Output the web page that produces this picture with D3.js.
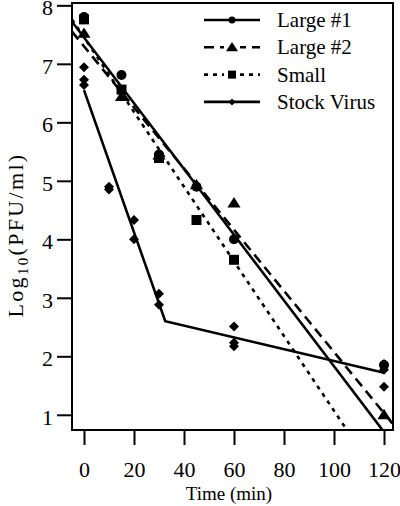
<!DOCTYPE html>
<html><head><meta charset="utf-8">
<script src="https://cdn.jsdelivr.net/npm/d3@7"></script>
<style>body{margin:0;background:#fff;} svg{display:block;} svg text{font-family:"Liberation Serif","Times New Roman",serif;fill:#000;}</style>
</head><body>
<svg id="c" width="400" height="506"></svg>
<script>
// ---- data ----
const seriesNames = ["Large #1", "Large #2", "Small", "Stock Virus"];
const large1T = [0, 15, 30, 45, 60, 120];
const large1V = [7.80, 6.81, 5.45, 4.90, 4.00, 1.85];
const large2T = [0, 15, 30, 45, 60, 120];
const large2V = [7.52, 6.44, 5.44, 4.93, 4.62, 1.00];
const smallT = [0, 15, 30, 45, 60];
const smallV = [7.76, 6.56, 5.39, 4.33, 3.65];
const stockT = [0, 0, 0, 10, 10, 20, 20, 30, 30, 60, 60, 60, 120, 120, 120];
const stockV = [6.94, 6.73, 6.64, 4.90, 4.85, 4.33, 4.00, 3.07, 2.88, 2.51, 2.23, 2.17, 1.87, 1.77, 1.48];
// fitted lines (time, value)
const large1FitT = [-4.8, 120];
const large1FitV = [7.72, 0.706];
const large2FitT = [-4.8, 123.6];
const large2FitV = [7.55, 0.84];
const smallFitT = [-4.8, 110];
const smallFitV = [7.76, 0.43];
const stockFitT = [0, 32.5, 120];
const stockFitV = [6.55, 2.60, 1.72];
const xTicks = [0, 20, 40, 60, 80, 100, 120];
const yTicks = [1, 2, 3, 4, 5, 6, 7, 8];

// ---- layout ----
const svg = d3.select("#c");
const L = 72, R = 393, T = 3, B = 430;
const x = d3.scaleLinear().domain([-4.8, 123.6]).range([L, R]);
const y = d3.scaleLinear().domain([0.74, 8.04]).range([B, T]);

svg.append("defs").append("clipPath").attr("id", "clip")
  .append("rect").attr("x", L).attr("y", T).attr("width", R - L).attr("height", B - T);

// frame
svg.append("rect").attr("x", L).attr("y", T).attr("width", R - L).attr("height", B - T)
  .attr("fill", "none").attr("stroke", "#000").attr("stroke-width", 2);

// axes
const xAxis = svg.append("g").attr("transform", `translate(0,${B})`)
  .call(d3.axisBottom(x).tickValues(xTicks).tickSize(15).tickPadding(16).tickSizeOuter(0));
const yAxis = svg.append("g").attr("transform", `translate(${L},0)`)
  .call(d3.axisLeft(y).tickValues(yTicks).tickSize(15).tickPadding(4).tickSizeOuter(0));
[xAxis, yAxis].forEach(g => {
  g.select(".domain").remove();
  g.selectAll("line").attr("stroke", "#000").attr("stroke-width", 2);
  g.selectAll("text").attr("font-family", null).attr("font-size", 22).attr("fill", "#000");
});
yAxis.selectAll("text").attr("dy", "0.42em");

// axis titles
svg.append("text").attr("x", 229).attr("y", 500).attr("text-anchor", "middle")
  .attr("font-size", 19).text("Time (min)");
const yl = svg.append("text").attr("transform", "translate(23,235) rotate(-90)")
  .attr("text-anchor", "middle").attr("font-size", 22);
yl.append("tspan").text("Log");
yl.append("tspan").attr("font-size", 15).attr("dy", 5).text("10");
yl.append("tspan").attr("dy", -5).text("(PFU/ml)");
const natural = yl.node().getComputedTextLength();
yl.attr("letter-spacing", Math.max(0, (165 - natural) / 13));

// lines
const lineGen = d3.line().x(d => x(d[0])).y(d => y(d[1]));
const plot = svg.append("g").attr("clip-path", "url(#clip)");
const fits = [
  {t: large1FitT, v: large1FitV, dash: null},
  {t: large2FitT, v: large2FitV, dash: "10,6"},
  {t: smallFitT, v: smallFitV, dash: "4,5"},
  {t: stockFitT, v: stockFitV, dash: null}
];
fits.forEach(f => {
  plot.append("path").datum(d3.zip(f.t, f.v)).attr("d", lineGen)
    .attr("fill", "none").attr("stroke", "#000").attr("stroke-width", 2.6)
    .attr("stroke-dasharray", f.dash);
});

// markers
function marker(g, type, cx, cy, s) {
  if (type === "circle") {
    g.append("circle").attr("cx", cx).attr("cy", cy).attr("r", s * 0.5).attr("fill", "#000");
  } else if (type === "triangle") {
    const h = s * 0.9;
    g.append("path").attr("d", `M${cx},${cy - h * 0.6}L${cx + s * 0.6},${cy + h * 0.45}L${cx - s * 0.6},${cy + h * 0.45}Z`).attr("fill", "#000");
  } else if (type === "square") {
    g.append("rect").attr("x", cx - s * 0.5).attr("y", cy - s * 0.5).attr("width", s).attr("height", s).attr("fill", "#000");
  } else {
    g.append("path").attr("d", `M${cx},${cy - s * 0.5}L${cx + s * 0.5},${cy}L${cx},${cy + s * 0.5}L${cx - s * 0.5},${cy}Z`).attr("fill", "#000");
  }
}
const pts = svg.append("g");
const sets = [
  {t: large1T, v: large1V, m: "circle", s: 10},
  {t: large2T, v: large2V, m: "triangle", s: 11},
  {t: smallT, v: smallV, m: "square", s: 10},
  {t: stockT, v: stockV, m: "diamond", s: 10}
];
sets.forEach(st => st.t.forEach((t, i) => marker(pts, st.m, x(t), y(st.v[i]), st.s)));

// legend
const leg = svg.append("g");
const legDash = [null, "10,6", "4,5", null];
const legM = ["circle", "triangle", "square", "diamond"];
const legS = [7, 10, 8, 7];
seriesNames.forEach((n, i) => {
  const yy = 20 + i * 27.3;
  leg.append("line").attr("x1", 204).attr("x2", 260).attr("y1", yy).attr("y2", yy)
    .attr("stroke", "#000").attr("stroke-width", 2.6).attr("stroke-dasharray", legDash[i]);
  if (legDash[i]) leg.append("rect").attr("x", 224).attr("y", yy - 6).attr("width", 16).attr("height", 12).attr("fill", "#fff");
  marker(leg, legM[i], 232, yy, legS[i]);
  leg.append("text").attr("x", 277).attr("y", yy + 7).attr("font-size", 21).text(n);
});
</script>
</body></html>
